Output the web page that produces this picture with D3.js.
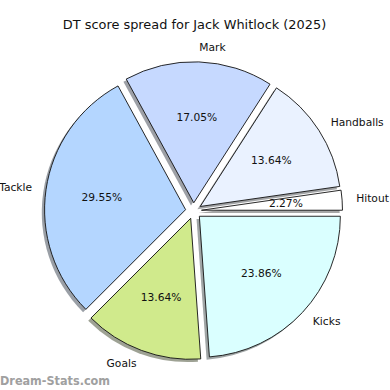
<!DOCTYPE html>
<html>
<head>
<meta charset="utf-8">
<script src="https://cdn.jsdelivr.net/npm/d3@7"></script>
<style>
  body { margin: 0; background: #fff; }
  text { font-family: "DejaVu Sans", sans-serif; fill: #111; }
</style>
</head>
<body>
<script>
// DT points by stat type, in matplotlib order (counter-clockwise from east)
const categories = ["Hitout", "Handballs", "Mark", "Tackle", "Goals", "Kicks"];
const values = [2, 12, 15, 26, 12, 21];
const colors = ["#ffffff", "#eaf2ff", "#c6d9ff", "#b4d6ff", "#d0ea8c", "#daffff"];

const width = 390, height = 390;
const cx = 193.5, cy = 210.8, radius = 141;
const explode = 8; // px each wedge is pushed out
const shadowDx = -2.8, shadowDy = 2.8;

const svg = d3.select("body").append("svg")
    .attr("width", width)
    .attr("height", height);

svg.append("text")
    .attr("x", 194.5)
    .attr("y", 25)
    .attr("text-anchor", "middle")
    .attr("dominant-baseline", "middle")
    .style("font-size", "12.9px")
    .text("DT score spread for Jack Whitlock (2025)");

const total = d3.sum(values);
const data = categories.map((c, i) => ({ name: c, value: values[i], color: colors[i] }));

// go counter-clockwise starting at 3 o'clock
const pie = d3.pie()
    .value(d => d.value)
    .sort(null)
    .startAngle(Math.PI / 2)
    .endAngle(Math.PI / 2 - 2 * Math.PI);

const arcs = pie(data);
arcs.forEach(d => {
    d.mid = (d.startAngle + d.endAngle) / 2;
    d.ox = cx + explode * Math.sin(d.mid);
    d.oy = cy - explode * Math.cos(d.mid);
});

const arc = d3.arc().innerRadius(0).outerRadius(radius);

// shadows under everything
svg.append("g").selectAll("path")
    .data(arcs)
    .enter().append("path")
    .attr("d", arc)
    .attr("transform", d => "translate(" + (d.ox + shadowDx) + "," + (d.oy + shadowDy) + ")")
    .attr("fill", d => {
        let c = d3.rgb(d.data.color);
        return d3.rgb(c.r * 0.3, c.g * 0.3, c.b * 0.3);
    })
    .attr("fill-opacity", 0.5);

svg.append("g").selectAll("path")
    .data(arcs)
    .enter().append("path")
    .attr("d", arc)
    .attr("transform", d => "translate(" + d.ox + "," + d.oy + ")")
    .attr("fill", d => d.data.color)
    .attr("stroke", "#111")
    .attr("stroke-width", 0.9)
    .attr("stroke-linejoin", "round");

// category labels at 1.1 r
svg.append("g").selectAll("text")
    .data(arcs)
    .enter().append("text")
    .attr("x", d => d.ox + 1.1 * radius * Math.sin(d.mid))
    .attr("y", d => d.oy - 1.1 * radius * Math.cos(d.mid))
    .attr("text-anchor", d => Math.sin(d.mid) > 0 ? "start" : "end")
    .attr("dominant-baseline", "middle")
    .style("font-size", "10.7px")
    .text(d => d.data.name);

// percentages at 0.6 r
svg.append("g").selectAll("text")
    .data(arcs)
    .enter().append("text")
    .attr("x", d => d.ox + 0.6 * radius * Math.sin(d.mid))
    .attr("y", d => d.oy - 0.6 * radius * Math.cos(d.mid))
    .attr("text-anchor", "middle")
    .attr("dominant-baseline", "middle")
    .style("font-size", "10.7px")
    .text(d => (100 * d.value / total).toFixed(2) + "%");

svg.append("text")
    .attr("x", 0)
    .attr("y", 384.5)
    .style("font-family", "'DejaVu Sans Condensed', 'DejaVu Sans', sans-serif")
    .style("font-size", "12.5px")
    .style("font-weight", "bold")
    .style("fill", "#a0a0a0")
    .text("Dream-Stats.com");
</script>
</body>
</html>
